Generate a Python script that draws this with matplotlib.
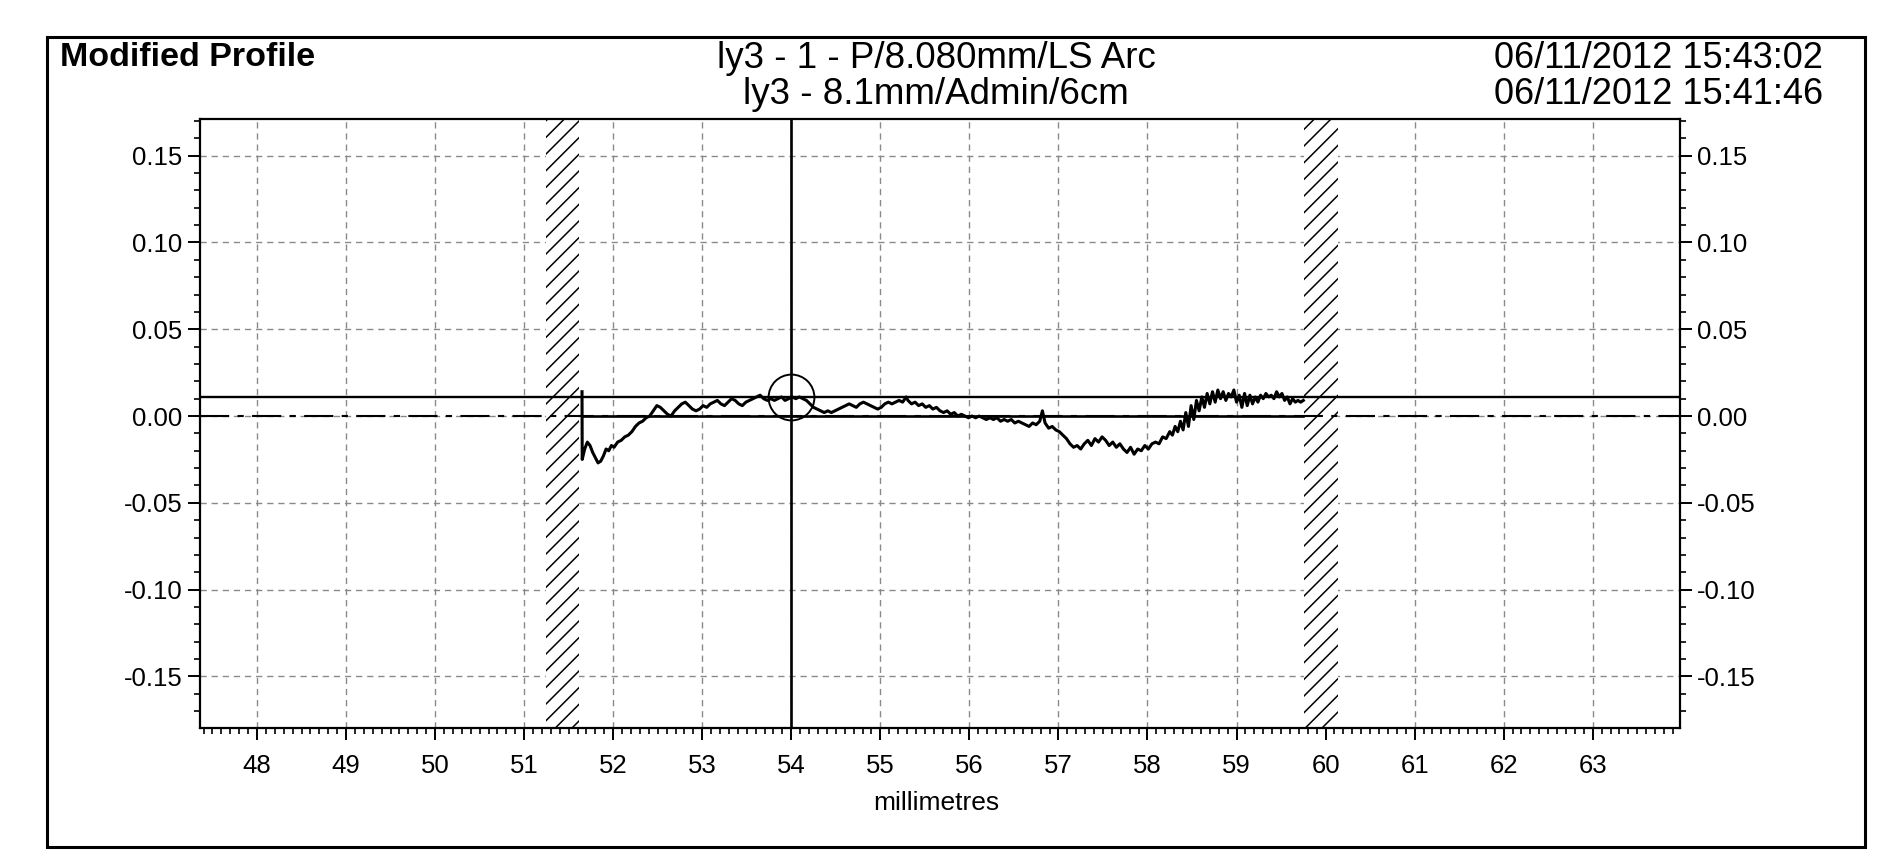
import numpy as np
import matplotlib
matplotlib.use("Agg")
import matplotlib.pyplot as plt
from matplotlib.patches import Rectangle
from matplotlib.ticker import MultipleLocator, FormatStrFormatter

plt.rcParams['font.family'] = ['Liberation Sans', 'DejaVu Sans']
plt.rcParams['hatch.linewidth'] = 1.1

# ---------------- data ----------------
title_left = "Modified Profile"
title_center = ["ly3 - 1 - P/8.080mm/LS Arc", "ly3 - 8.1mm/Admin/6cm"]
title_right = ["06/11/2012 15:43:02", "06/11/2012 15:41:46"]
x_label = "millimetres"

x_ticks = [48, 49, 50, 51, 52, 53, 54, 55, 56, 57, 58, 59, 60, 61, 62, 63]
y_ticks = [-0.15, -0.10, -0.05, 0.00, 0.05, 0.10, 0.15]
x_limits = (47.36, 63.98)
y_limits = (-0.1797, 0.1711)

excluded_left = (51.24, 51.62)
excluded_right = (59.76, 60.14)
cursor_x = 54.0
peak_level = 0.0111
reference_level = 0.0
eval_start = 51.65
eval_end = 59.75

profile_x = [51.650, 51.652, 51.68, 51.71, 51.74, 51.77, 51.80, 51.83, 51.86, 51.89,
             51.92, 51.95, 51.98, 52.01, 52.05, 52.09, 52.13, 52.17, 52.21, 52.25,
             52.29, 52.33, 52.37, 52.41, 52.45, 52.49, 52.53, 52.57, 52.61, 52.65,
             52.69, 52.73, 52.77, 52.81, 52.85, 52.89, 52.93, 52.97, 53.01, 53.05,
             53.09, 53.13, 53.17, 53.21, 53.25, 53.29, 53.33, 53.37, 53.41, 53.45,
             53.49, 53.53, 53.57, 53.61, 53.65, 53.69, 53.73, 53.77, 53.81, 53.85,
             53.89, 53.93, 53.97, 54.01, 54.05, 54.09, 54.13, 54.17, 54.21, 54.25,
             54.29, 54.33, 54.37, 54.41, 54.45, 54.49, 54.53, 54.57, 54.61, 54.65,
             54.69, 54.73, 54.77, 54.81, 54.85, 54.89, 54.93, 54.97, 55.01, 55.05,
             55.09, 55.13, 55.17, 55.21, 55.25, 55.29, 55.31, 55.35, 55.39, 55.43,
             55.47, 55.51, 55.55, 55.59, 55.63, 55.67, 55.71, 55.75, 55.79, 55.83,
             55.87, 55.91, 55.95, 55.99, 56.03, 56.07, 56.11, 56.15, 56.19, 56.23,
             56.27, 56.31, 56.35, 56.39, 56.43, 56.47, 56.51, 56.55, 56.59, 56.63,
             56.67, 56.71, 56.75, 56.79, 56.82, 56.85, 56.89, 56.93, 56.97, 57.01,
             57.05, 57.09, 57.13, 57.17, 57.21, 57.25, 57.29, 57.33, 57.37, 57.41,
             57.45, 57.49, 57.53, 57.57, 57.61, 57.65, 57.69, 57.73, 57.77, 57.81,
             57.85, 57.89, 57.93, 57.97, 58.01, 58.05, 58.09, 58.13, 58.17, 58.21,
             58.25, 58.28, 58.31, 58.34, 58.37, 58.40, 58.43, 58.46, 58.49, 58.52,
             58.55, 58.58, 58.61, 58.64, 58.67, 58.70, 58.73, 58.76, 58.79, 58.82,
             58.85, 58.88, 58.91, 58.94, 58.97, 59.00, 59.03, 59.06, 59.09, 59.12,
             59.15, 59.18, 59.21, 59.24, 59.27, 59.30, 59.33, 59.36, 59.39, 59.42,
             59.45, 59.48, 59.51, 59.54, 59.57, 59.60, 59.63, 59.66, 59.69, 59.72,
             59.75]
profile_um = [14, -25, -19, -15, -17, -21, -24, -27, -26, -23,
              -19, -20, -17, -18, -15, -14, -12, -11, -9, -6,
              -4, -3, -1, 0, 3, 6, 5, 3, 1, 0,
              3, 5, 7, 8, 6, 4, 3, 4, 6, 5,
              7, 8, 9, 7, 6, 8, 10, 9, 7, 6,
              8, 9, 10, 11, 12, 10, 9, 10, 9, 10,
              11, 9, 10, 11, 10, 11, 10, 9, 7, 5,
              4, 3, 2, 3, 2, 3, 4, 5, 6, 7,
              6, 5, 7, 8, 7, 6, 5, 4, 5, 7,
              8, 7, 8, 9, 8, 11, 9, 7, 8, 6,
              7, 5, 6, 4, 5, 3, 2, 3, 1, 2,
              0, 1, 0, -1, 0, -1, 0, -1, -2, -1,
              -2, -1, -3, -2, -3, -2, -4, -3, -4, -5,
              -6, -4, -5, -3, 3, -4, -7, -6, -8, -9,
              -11, -13, -16, -18, -17, -19, -16, -14, -17, -13,
              -15, -12, -14, -17, -15, -18, -16, -19, -21, -18,
              -22, -19, -20, -17, -19, -16, -15, -16, -12, -13,
              -9, -11, -6, -9, -3, -8, 2, -6, 6, -2,
              9, 3, 11, 5, 13, 7, 14, 8, 15, 10,
              14, 9, 13, 11, 15, 8, 12, 5, 13, 6,
              12, 7, 11, 8, 12, 10, 13, 11, 12, 10,
              14, 11, 13, 9, 11, 7, 10, 8, 9, 8,
              9]
profile_y = np.array(profile_um) / 1000.0

# ---------------- figure ----------------
W, H = 1890, 850
fig = plt.figure(figsize=(W / 100, H / 100), dpi=100)
fig.patch.set_facecolor('white')

ax_l, ax_r, ax_t, ax_b = 200, 1680, 119, 728
ax = fig.add_axes([ax_l / W, 1 - ax_b / H, (ax_r - ax_l) / W, (ax_b - ax_t) / H])

ax.set_xlim(*x_limits)
ax.set_ylim(*y_limits)

# grid
ax.set_xticks(x_ticks)
ax.set_yticks(y_ticks)
ax.xaxis.set_minor_locator(MultipleLocator(0.1))
ax.yaxis.set_minor_locator(MultipleLocator(0.01))
ax.yaxis.set_major_formatter(FormatStrFormatter('%.2f'))
ax.grid(True, which='major', color='#8a8a8a', linestyle=(0, (4.5, 3.5)), linewidth=1.0)
ax.set_axisbelow(True)

# excluded (hatched) regions
for (a, b) in (excluded_left, excluded_right):
    ax.axvspan(a, b, facecolor='white', edgecolor='black', hatch='//', linewidth=0, zorder=2)

# reference lines
ax.axhline(reference_level, color='black', linewidth=1.5,
           linestyle=(0, (14, 4, 3, 4)), zorder=3)
ax.plot([eval_start, eval_end], [reference_level, reference_level], color='black',
        linewidth=1.9, zorder=4)
ax.axhline(peak_level, color='black', linewidth=1.7, zorder=4)
ax.axvline(cursor_x, color='black', linewidth=1.9, zorder=5)

# profile
ax.plot(profile_x, profile_y, color='black', linewidth=2.2, zorder=6)

# cursor circle
ax.plot([cursor_x], [peak_level], marker='o', markersize=33, markerfacecolor='none',
        markeredgecolor='black', markeredgewidth=1.4, zorder=7)

# ticks
ax.tick_params(axis='both', which='major', direction='out', length=8.5, width=1.4,
               labelsize=18.5, color='black')
ax.tick_params(axis='both', which='minor', direction='out', length=4, width=1.2,
               color='black')
ax.tick_params(axis='y', which='both', left=True, right=True, labelleft=True,
               labelright=True, pad=4)
ax.tick_params(axis='x', which='both', top=False, bottom=True)
ax.tick_params(axis='x', which='major', pad=10)
for sp in ax.spines.values():
    sp.set_linewidth(1.6)
    sp.set_color('black')

# axis label
fig.text(936 / W, 1 - 803 / H, x_label, ha='center', va='center', fontsize=19)

# titles
fig.text(60 / W, 1 - 58 / H, title_left, ha='left', va='center', fontsize=24.5,
         fontweight='bold')
fig.text(936 / W, 1 - 58 / H, title_center[0], ha='center', va='center', fontsize=26.5)
fig.text(936 / W, 1 - 94 / H, title_center[1], ha='center', va='center', fontsize=26.5)
fig.text(1823 / W, 1 - 58 / H, title_right[0], ha='right', va='center', fontsize=26)
fig.text(1823 / W, 1 - 94 / H, title_right[1], ha='right', va='center', fontsize=26)

# outer frame
fx0, fx1, fy0, fy1 = 47, 1865, 37, 847
fig.add_artist(Rectangle((fx0 / W, 1 - fy1 / H), (fx1 - fx0) / W, (fy1 - fy0) / H,
                         transform=fig.transFigure, fill=False, edgecolor='black',
                         linewidth=2.2))

fig.savefig('out.png', dpi=100, facecolor='white')
